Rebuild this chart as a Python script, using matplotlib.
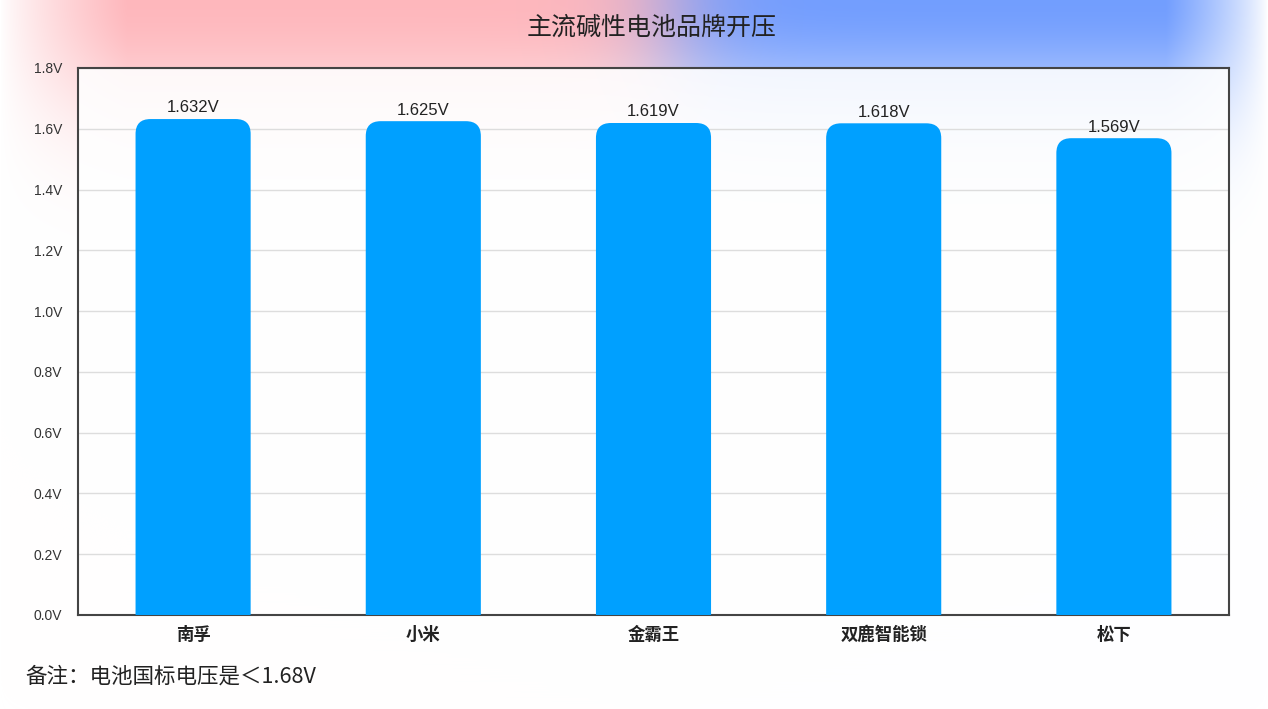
import numpy as np
import matplotlib.pyplot as plt
from matplotlib.patches import PathPatch
from matplotlib.path import Path
from matplotlib.ticker import FuncFormatter

plt.rcParams['font.family'] = ['Noto Sans CJK SC', 'DejaVu Sans']

# dados
marcas = ['南孚', '小米', '金霸王', '双鹿智能锁', '松下']
tensao = [1.632, 1.625, 1.619, 1.618, 1.569]
rotulos = ['1.632V', '1.625V', '1.619V', '1.618V', '1.569V']
yticks = [0.0, 0.2, 0.4, 0.6, 0.8, 1.0, 1.2, 1.4, 1.6, 1.8]

W, H = 1268, 709
fig = plt.figure(figsize=(W / 100, H / 100), dpi=100)

# ===== fundo com degrade rosa / azul no topo
bg = fig.add_axes([0, 0, 1, 1], zorder=0)
xx = np.linspace(0, 1, W)[None, :]
yy = np.linspace(0, 1, H)[:, None]
pink = np.array([1.0, 0.72, 0.74])
blue = np.array([0.45, 0.62, 1.0])
mix = 1 / (1 + np.exp(-(xx - 0.53) * 40))
cor = pink[None, None, :] * (1 - mix[..., None]) + blue[None, None, :] * mix[..., None]
fade = np.exp(-(yy / 0.17) ** 2)
ladoesq = np.clip(xx / 0.10, 0, 1) ** 0.8
ladodir = np.clip((1 - xx) / 0.08, 0, 1) ** 0.8
alfa = fade * ladoesq * ladodir
img = np.ones((H, W, 3)) * (1 - alfa[..., None]) + cor * alfa[..., None]
bg.imshow(img, aspect='auto', extent=[0, 1, 0, 1], origin='upper', interpolation='none')
bg.set_xlim(0, 1)
bg.set_ylim(0, 1)
bg.axis('off')

# ===== grafico principal
ax = fig.add_axes([78 / W, 1 - 615 / H, (1229 - 78) / W, (615 - 68) / H], zorder=1)
ax.set_facecolor((1, 1, 1, 0.88))
pos = np.arange(len(marcas))
barras = ax.bar(pos, tensao, width=0.5, color='none', edgecolor='none')
corbar = '#00a0ff'
rx, ry = 0.065, 0.049  # raio do canto em unidades x e y
for b in barras:
    x0, w, h = b.get_x(), b.get_width(), b.get_height()
    x1 = x0 + w
    verts = [(x0, 0), (x0, h - ry), (x0, h), (x0 + rx, h),
             (x1 - rx, h), (x1, h), (x1, h - ry), (x1, 0), (x0, 0)]
    codes = [Path.MOVETO, Path.LINETO, Path.CURVE3, Path.CURVE3,
             Path.LINETO, Path.CURVE3, Path.CURVE3, Path.LINETO, Path.CLOSEPOLY]
    ax.add_patch(PathPatch(Path(verts, codes), facecolor=corbar, edgecolor='none', zorder=3))

for i, v in enumerate(tensao):
    ax.text(pos[i], v + 0.012, rotulos[i], ha='center', va='bottom', fontsize=12,
            color='#222222', family='Liberation Sans', zorder=4)

ax.set_xlim(-0.5, len(marcas) - 0.5)
ax.set_ylim(0, 1.8)
ax.set_yticks(yticks)
ax.yaxis.set_major_formatter(FuncFormatter(lambda v, p: '%.1fV' % v))
ax.set_xticks(pos)
ax.set_xticklabels(marcas, fontsize=12.5, fontweight='bold', color='#222222')
ax.tick_params(axis='y', length=0, pad=11.5, labelsize=10, labelcolor='#333333')
for t in ax.get_yticklabels():
    t.set_family('Liberation Sans')
ax.tick_params(axis='x', length=0, pad=8)
ax.grid(axis='y', color='#dddddd', lw=1, zorder=0)
ax.set_axisbelow(True)
for s in ax.spines.values():
    s.set_color('#444444')
    s.set_linewidth(1.5)

fig.text(652 / W, 1 - 28 / H, '主流碱性电池品牌开压', ha='center', va='center', fontsize=18,
         fontweight='medium', color='#222222')
fig.text(25 / W, 1 - 677 / H, '备注：电池国标电压是＜1.68V', ha='left', va='center', fontsize=15.5,
         fontweight='medium', color='#222222')

fig.savefig('out.png', dpi=100)
